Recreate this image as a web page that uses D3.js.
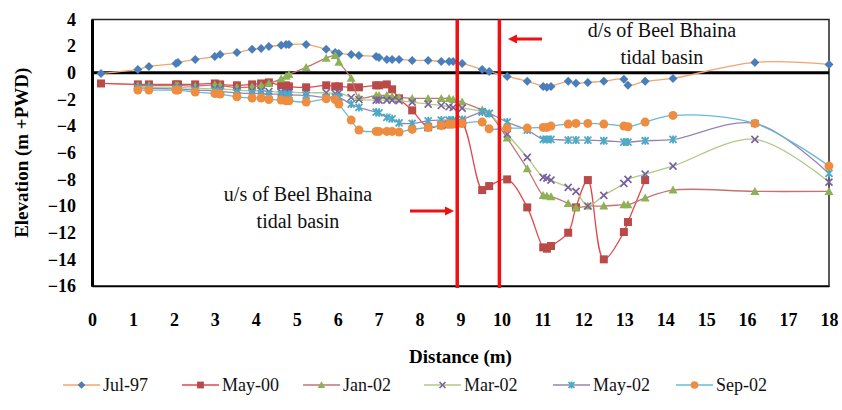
<!DOCTYPE html>
<html><head><meta charset="utf-8">
<script src="https://cdn.jsdelivr.net/npm/d3@7"></script>
<style>body{margin:0;background:#fff}svg{display:block}</style>
</head><body>
<svg id="c" width="842" height="410"></svg>
<script>
// ---------- data ----------
const distAll = [0.22,1.12,1.39,2.05,2.1,2.52,3.0,3.13,3.54,3.91,4.13,4.32,4.62,4.74,4.81,5.23,5.72,5.94,6.03,6.33,6.52,6.94,7.01,7.2,7.33,7.5,7.82,8.21,8.53,8.72,8.82,9.04,9.53,9.7,10.14,10.63,11.02,11.11,11.21,11.63,11.82,12.11,12.5,12.99,13.09,13.51,14.19,16.19,18.0];
const distMay00 = distAll.slice(0, 46);
const distLater = distAll.slice(1);
const jul97 = [-0.05,0.25,0.48,0.7,0.78,1.0,1.23,1.38,1.53,1.76,1.83,1.98,2.06,2.13,2.13,2.13,1.76,1.53,1.45,1.38,1.3,1.23,1.15,1.0,1.0,1.0,0.93,0.93,0.85,0.85,0.85,0.7,0.25,0.1,-0.27,-0.64,-1.02,-1.09,-1.02,-0.64,-0.79,-0.72,-0.64,-0.49,-0.94,-0.64,-0.42,0.78,0.63];
const may00 = [-0.8,-0.87,-0.87,-0.87,-0.87,-0.87,-0.8,-0.87,-0.94,-0.87,-0.8,-0.72,-0.94,-0.94,-1.02,-1.09,-0.94,-1.02,-1.02,-1.09,-1.09,-0.94,-0.94,-0.87,-1.24,-1.92,-2.82,-4.09,-3.94,-3.87,-3.79,-3.79,-8.8,-8.5,-8.0,-10.1,-13.1,-13.2,-13.0,-12.0,-10.1,-8.05,-14.0,-11.95,-11.2,-8.05];
const jan02 = [-0.95,-0.95,-0.95,-0.95,-1.0,-0.9,-0.95,-1.1,-1.05,-0.95,-0.8,-0.45,-0.25,-0.12,0.4,1.1,1.3,0.8,-0.4,-1.85,-1.7,-1.7,-1.7,-1.77,-1.85,-1.92,-1.92,-1.92,-1.92,-2.0,-2.2,-2.8,-3.05,-4.9,-7.2,-9.2,-9.25,-9.3,-9.8,-10.1,-10.0,-10.0,-9.9,-9.9,-9.4,-8.8,-8.9,-8.9];
const mar02 = [-1.05,-1.05,-1.1,-1.1,-1.15,-1.2,-1.2,-1.3,-1.35,-1.35,-1.4,-1.45,-1.45,-1.45,-1.5,-1.5,-1.55,-1.5,-1.85,-2.0,-2.05,-2.05,-2.05,-2.05,-2.1,-2.2,-2.35,-2.45,-2.55,-2.6,-2.65,-2.9,-3.05,-4.6,-6.35,-7.85,-7.9,-8.05,-8.6,-8.9,-10.0,-9.2,-8.3,-8.0,-7.6,-7.0,-5.0,-8.2];
const may02 = [-1.15,-1.15,-1.2,-1.2,-1.3,-1.35,-1.4,-1.5,-1.55,-1.55,-1.6,-1.6,-1.65,-1.65,-1.7,-1.85,-1.8,-1.85,-2.35,-2.6,-2.95,-3.0,-3.35,-3.45,-3.75,-3.8,-3.6,-3.55,-3.55,-3.55,-3.5,-2.95,-3.05,-3.7,-4.3,-5.0,-5.0,-5.0,-5.05,-5.05,-5.05,-5.1,-5.2,-5.2,-5.1,-5.0,-3.8,-7.55];
const sep02 = [-1.3,-1.3,-1.3,-1.3,-1.45,-1.55,-1.6,-1.8,-1.9,-1.9,-2.0,-2.05,-2.1,-2.1,-2.2,-1.95,-2.0,-2.35,-3.55,-4.3,-4.4,-4.4,-4.4,-4.4,-4.45,-4.25,-4.1,-3.95,-3.85,-3.85,-3.8,-3.7,-4.2,-4.15,-4.15,-4.1,-4.1,-4.0,-3.85,-3.8,-3.8,-3.85,-4.0,-4.05,-3.7,-3.2,-3.8,-7.0];
const seriesNames = ["Jul-97","May-00","Jan-02","Mar-02","May-02","Sep-02"];
const xTicks = d3.range(0, 19, 1);
const yTicks = d3.range(-16, 5, 2);
const basinBounds = [8.92, 9.95];

// ---------- styles ----------
const series = [
  {name: seriesNames[0], x: distAll,  y: jul97, line: "#F2A46E", fill: "#4A7EBB", shape: "diamond"},
  {name: seriesNames[1], x: distMay00, y: may00, line: "#E0484B", fill: "#B94A48", shape: "square"},
  {name: seriesNames[2], x: distLater, y: jan02, line: "#C47272", fill: "#8DB255", shape: "triangle"},
  {name: seriesNames[3], x: distLater, y: mar02, line: "#AECB83", fill: "#7A5FA0", shape: "x"},
  {name: seriesNames[4], x: distLater, y: may02, line: "#9684B8", fill: "#4AABC5", shape: "star"},
  {name: seriesNames[5], x: distLater, y: sep02, line: "#66BCD6", fill: "#EE8C3F", shape: "circle"}
];

const svg = d3.select("#c");
const W = 842, H = 410;
const m = {l: 92, r: 829, t: 19.5, b: 286};
const x = d3.scaleLinear().domain([0, 18]).range([m.l, m.r]);
const y = d3.scaleLinear().domain([-16, 4]).range([m.b, m.t]);
const serif = "'Liberation Serif','Times New Roman',serif";

svg.append("rect").attr("width", W).attr("height", H).attr("fill", "#fff");

// frame
svg.append("rect").attr("x", m.l).attr("y", m.t).attr("width", m.r - m.l).attr("height", m.b - m.t)
  .attr("fill", "none").attr("stroke", "#222").attr("stroke-width", 1.5);

// axes
const xAxis = svg.append("g").attr("transform", `translate(0,${m.b})`)
  .call(d3.axisBottom(x).tickValues(xTicks).tickSize(0).tickPadding(27).tickFormat(d3.format("d")));
xAxis.select(".domain").attr("stroke", "#000").attr("stroke-width", 1.5);
xAxis.selectAll("text").attr("font-family", serif).attr("font-size", 18).attr("font-weight", "bold").attr("fill", "#000");

const yAxis = svg.append("g").attr("transform", `translate(${m.l},0)`)
  .call(d3.axisLeft(y).tickValues(yTicks).tickSize(0).tickPadding(16).tickFormat(d3.format("d")));
yAxis.select(".domain").attr("stroke", "#000").attr("stroke-width", 3);
yAxis.selectAll("text").attr("font-family", serif).attr("font-size", 18).attr("font-weight", "bold").attr("fill", "#000");

// zero line
svg.append("line").attr("x1", m.l).attr("x2", m.r).attr("y1", y(0)).attr("y2", y(0))
  .attr("stroke", "#000").attr("stroke-width", 3);

// series
const line = d3.line().curve(d3.curveCatmullRom.alpha(0.5));
function drawMarker(g, shape, cx, cy, fill, s) {
  s = s || 1;
  if (shape === "diamond") {
    g.append("path").attr("d", `M${cx},${cy-4.5*s}L${cx+4.5*s},${cy}L${cx},${cy+4.5*s}L${cx-4.5*s},${cy}Z`).attr("fill", fill);
  } else if (shape === "square") {
    g.append("rect").attr("x", cx-4*s).attr("y", cy-4*s).attr("width", 8*s).attr("height", 8*s).attr("fill", fill);
  } else if (shape === "triangle") {
    g.append("path").attr("d", `M${cx},${cy-4.5*s}L${cx+4.5*s},${cy+3.5*s}L${cx-4.5*s},${cy+3.5*s}Z`).attr("fill", fill);
  } else if (shape === "x") {
    g.append("path").attr("d", `M${cx-3.5*s},${cy-3.5*s}L${cx+3.5*s},${cy+3.5*s}M${cx+3.5*s},${cy-3.5*s}L${cx-3.5*s},${cy+3.5*s}`)
      .attr("stroke", fill).attr("stroke-width", 1.6).attr("fill", "none");
  } else if (shape === "star") {
    g.append("path").attr("d", `M${cx-3.5*s},${cy-3.5*s}L${cx+3.5*s},${cy+3.5*s}M${cx+3.5*s},${cy-3.5*s}L${cx-3.5*s},${cy+3.5*s}M${cx},${cy-4*s}L${cx},${cy+4*s}`)
      .attr("stroke", fill).attr("stroke-width", 1.8).attr("fill", "none");
  } else if (shape === "circle") {
    g.append("circle").attr("cx", cx).attr("cy", cy).attr("r", 4.5*s).attr("fill", fill);
  }
}
series.forEach(s => {
  const g = svg.append("g");
  const pts = s.x.map((d, i) => [x(d), y(s.y[i])]);
  g.append("path").attr("d", line(pts)).attr("fill", "none").attr("stroke", s.line).attr("stroke-width", 1.3);
  pts.forEach(p => drawMarker(g, s.shape, p[0], p[1], s.fill));
});

// basin boundaries
basinBounds.forEach(b => {
  svg.append("line").attr("x1", x(b)).attr("x2", x(b)).attr("y1", m.t).attr("y2", m.b + 2)
    .attr("stroke", "#F01010").attr("stroke-width", 3.5);
});

// arrows
function arrow(x1, x2, yy) {
  const dir = Math.sign(x2 - x1);
  svg.append("line").attr("x1", x1).attr("x2", x2 - dir*7).attr("y1", yy).attr("y2", yy)
    .attr("stroke", "#F01010").attr("stroke-width", 3);
  svg.append("path").attr("d", `M${x2},${yy}L${x2 - dir*9},${yy-4.5}L${x2 - dir*9},${yy+4.5}Z`).attr("fill", "#F01010");
}
arrow(542, 508, 39);
arrow(410, 454, 211);

// annotations
function label(lines, cx, y0) {
  lines.forEach((t, i) => svg.append("text").attr("x", cx).attr("y", y0 + i*27).attr("text-anchor", "middle")
    .attr("font-family", serif).attr("font-size", 20).attr("fill", "#111").text(t));
}
label(["d/s of Beel Bhaina", "tidal basin"], 662, 37);
label(["u/s of Beel Bhaina", "tidal basin"], 298, 201);

// axis titles
svg.append("text").attr("x", x(9)).attr("y", 363).attr("text-anchor", "middle")
  .attr("font-family", serif).attr("font-size", 19).attr("font-weight", "bold").text("Distance (m)");
svg.append("text").attr("transform", `translate(28,${(m.t+m.b)/2}) rotate(-90)`).attr("text-anchor", "middle")
  .attr("font-family", serif).attr("font-size", 19).attr("font-weight", "bold").text("Elevation (m +PWD)");

// legend
const legX = [63, 182, 303, 424, 553, 676];
const legY = 385;
series.forEach((s, i) => {
  const g = svg.append("g");
  g.append("line").attr("x1", legX[i]).attr("x2", legX[i] + 37).attr("y1", legY).attr("y2", legY)
    .attr("stroke", s.line).attr("stroke-width", 1.5);
  drawMarker(g, s.shape, legX[i] + 18.5, legY, s.fill, 0.85);
  g.append("text").attr("x", legX[i] + 40).attr("y", legY + 6).attr("font-family", serif).attr("font-size", 18)
    .attr("fill", "#111").text(s.name);
});
</script>
</body></html>
